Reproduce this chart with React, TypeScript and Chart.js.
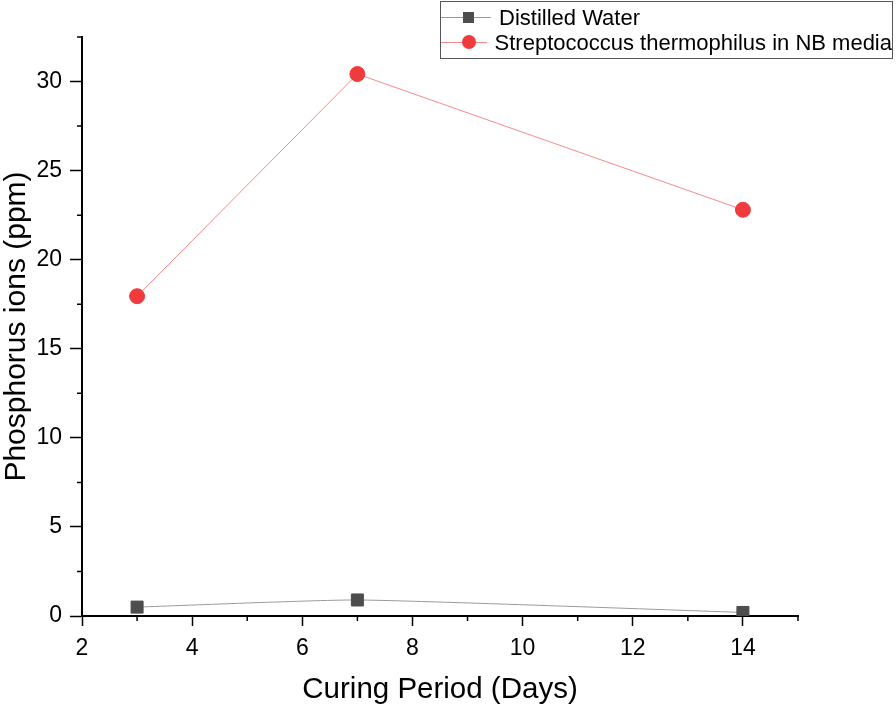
import React, { useEffect, useRef } from "react";
import { Chart, registerables } from "chart.js";

Chart.register(...registerables);

const days = [3, 7, 14];
const distilledWater = [0.5, 0.9, 0.2];
const strepto = [17.95, 30.42, 22.8];
const xMajorTicks = [2, 4, 6, 8, 10, 12, 14];
const xMinorTicks = [3, 5, 7, 9, 11, 13, 15];
const yMajorTicks = [0, 5, 10, 15, 20, 25, 30];
const yMinorTicks = [2.5, 7.5, 12.5, 17.5, 22.5, 27.5, 32.5];

const FONT = "'Liberation Sans', Arial, sans-serif";

const minorTickPlugin = {
  id: "minorTicks",
  afterDraw(chart: any) {
    const { ctx, scales } = chart;
    const x = scales.x;
    const y = scales.y;
    ctx.save();
    ctx.strokeStyle = "#000";
    ctx.lineWidth = 1.5;
    ctx.beginPath();
    xMinorTicks.forEach((v) => {
      const px = x.getPixelForValue(v);
      ctx.moveTo(px, y.bottom);
      ctx.lineTo(px, y.bottom + 5);
    });
    yMinorTicks.forEach((v) => {
      const py = y.getPixelForValue(v);
      ctx.moveTo(x.left, py);
      ctx.lineTo(x.left - 5, py);
    });
    ctx.stroke();
    ctx.restore();
  },
};

export default function App() {
  const ref = useRef<HTMLCanvasElement>(null);
  useEffect(() => {
    if (!ref.current) return;
    const chart = new Chart(ref.current, {
      type: "line",
      data: {
        datasets: [
          {
            label: "Distilled Water",
            data: days.map((d, i) => ({ x: d, y: distilledWater[i] })),
            borderColor: "#9a9a9a",
            borderWidth: 1,
            backgroundColor: "#4d4d4d",
            pointStyle: "rect",
            pointRadius: 8.5,
            pointBorderColor: "#4d4d4d",
            pointBackgroundColor: "#4d4d4d",
            tension: 0.15,
          },
          {
            label: "Streptococcus thermophilus in NB media",
            data: days.map((d, i) => ({ x: d, y: strepto[i] })),
            borderColor: "#f78a8a",
            borderWidth: 1,
            backgroundColor: "#ef3b3e",
            pointStyle: "circle",
            pointRadius: 7.5,
            pointBorderColor: "#ef3b3e",
            pointBackgroundColor: "#ef3b3e",
            tension: 0,
          },
        ],
      },
      options: {
        animation: false,
        responsive: false,
        maintainAspectRatio: false,
        layout: { padding: { left: 0, right: 98, top: 37, bottom: 0 } },
        plugins: { legend: { display: false }, tooltip: { enabled: false } },
        scales: {
          x: {
            type: "linear",
            min: 2,
            max: 15,
            afterBuildTicks: (s: any) => {
              s.ticks = xMajorTicks.map((v) => ({ value: v }));
            },
            afterFit: (s: any) => {
              s.height = 92;
            },
            grid: {
              display: true,
              drawOnChartArea: false,
              drawTicks: true,
              tickLength: 10,
              tickWidth: 1.5,
              tickColor: "#000",
            },
            border: { display: true, color: "#000", width: 2 },
            ticks: {
              color: "#000",
              font: { family: FONT, size: 23 },
              padding: 9,
              maxRotation: 0,
            },
            title: {
              display: true,
              text: "Curing Period (Days)",
              color: "#000",
              font: { family: FONT, size: 29.5, lineHeight: 1.1 },
              padding: { top: 0, bottom: 2 },
            },
          },
          y: {
            type: "linear",
            min: 0,
            max: 32.5,
            afterBuildTicks: (s: any) => {
              s.ticks = yMajorTicks.map((v) => ({ value: v }));
            },
            afterFit: (s: any) => {
              s.width = 82;
            },
            grid: {
              display: true,
              drawOnChartArea: false,
              drawTicks: true,
              tickLength: 12,
              tickWidth: 1.5,
              tickColor: "#000",
            },
            border: { display: true, color: "#000", width: 2 },
            ticks: {
              color: "#000",
              font: { family: FONT, size: 23 },
              padding: 8,
            },
            title: {
              display: true,
              text: "Phosphorus ions (ppm)",
              color: "#000",
              font: { family: FONT, size: 30, lineHeight: 1.1 },
              padding: { top: 0, bottom: 0 },
            },
          },
        },
      },
      plugins: [minorTickPlugin],
    });
    return () => chart.destroy();
  }, []);

  const legendRow = (label: string, lineColor: string, marker: React.ReactNode) => (
    <div style={{ display: "flex", alignItems: "center", height: 25 }}>
      <div style={{ position: "relative", width: 50, height: 25, marginRight: 8 }}>
        <div style={{ position: "absolute", left: 0, right: 0, top: 12, height: 1, background: lineColor }} />
        {marker}
      </div>
      <span style={{ fontFamily: FONT, fontSize: 22, lineHeight: "25px", color: "#000", whiteSpace: "nowrap" }}>{label}</span>
    </div>
  );

  return (
    <div style={{ position: "absolute", left: 0, top: 0, width: 896, height: 708, background: "#fff" }}>
      <canvas ref={ref} width={896} height={708} style={{ display: "block" }} />
      <div
        style={{
          position: "absolute",
          left: 440,
          top: 1,
          width: 451,
          height: 53,
          border: "1px solid #555",
          paddingTop: 3,
          boxSizing: "content-box",
          background: "#fff",
        }}
      >
        {legendRow(
          "Distilled Water",
          "#9a9a9a",
          <div style={{ position: "absolute", left: 22, top: 7, width: 11, height: 11, background: "#4d4d4d" }} />
        )}
        {legendRow(
          "Streptococcus thermophilus in NB media",
          "#f78a8a",
          <div style={{ position: "absolute", left: 21, top: 5, width: 14, height: 14, borderRadius: 7, background: "#ef3b3e" }} />
        )}
      </div>
    </div>
  );
}
